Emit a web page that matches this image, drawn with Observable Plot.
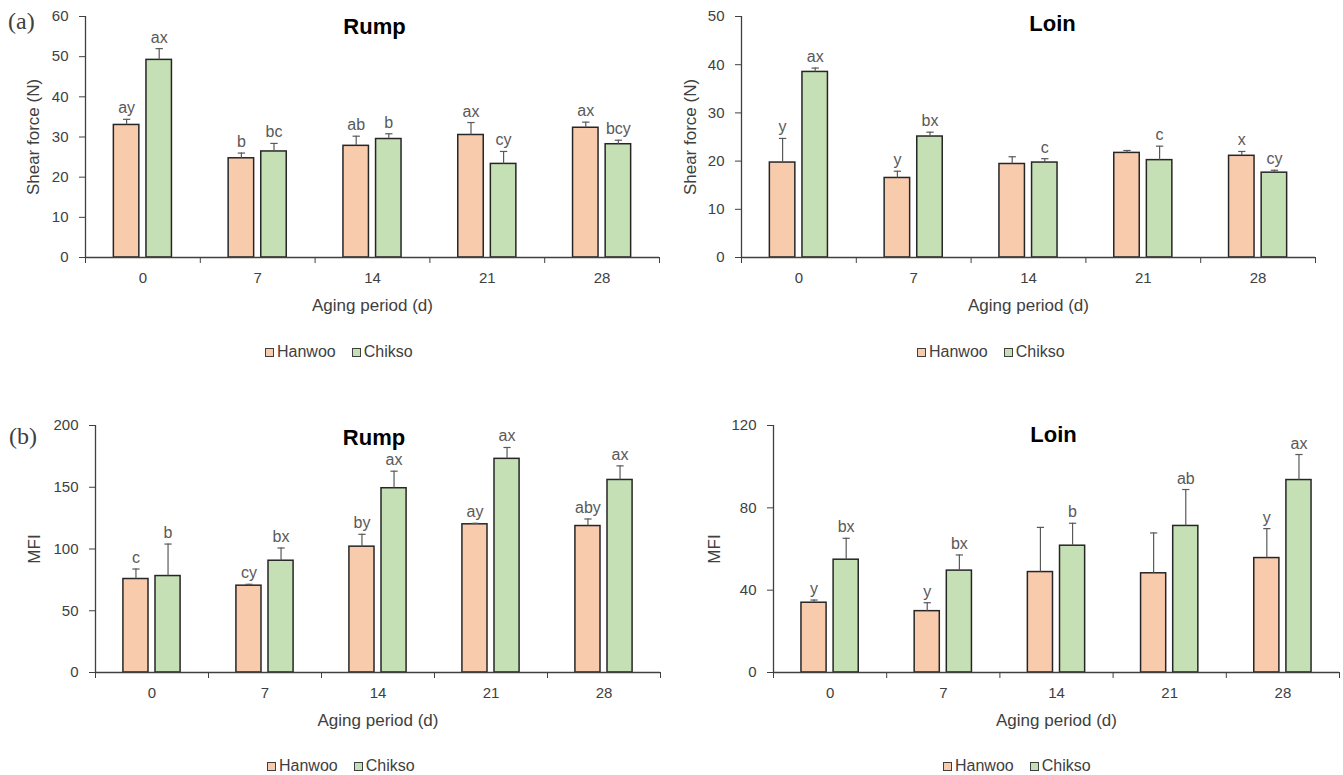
<!DOCTYPE html>
<html><head><meta charset="utf-8">
<script src="https://cdn.jsdelivr.net/npm/d3@7"></script>
<script src="https://cdn.jsdelivr.net/npm/@observablehq/plot@0.6"></script>
<style>
body{margin:0;background:#fff;width:1343px;height:775px;position:relative;overflow:hidden;font-family:"Liberation Sans",Arial,sans-serif;}
.panel{position:absolute;}
.tag{position:absolute;font-family:"Liberation Serif","Times New Roman",serif;font-size:24px;color:#404040;line-height:24px;}
.legend{position:absolute;display:flex;align-items:center;font-size:16px;color:#404040;line-height:16px;}
.sw{width:7px;height:7px;border:1px solid #404040;margin-right:3px;display:inline-block;}
.gap{width:16px;}
</style></head><body>
<div id="a1" class="panel" style="left:0;top:0"></div>
<div id="a2" class="panel" style="left:670px;top:0"></div>
<div id="b1" class="panel" style="left:0;top:400px"></div>
<div id="b2" class="panel" style="left:670px;top:400px"></div>
<div class="tag" style="left:8px;top:9px">(a)</div>
<div class="tag" style="left:9px;top:424px">(b)</div>
<div class="legend" style="left:265px;top:344px"><span class="sw" style="background:#F8CBAD"></span>Hanwoo<span class="gap"></span><span class="sw" style="background:#C5E0B4"></span>Chikso</div>
<div class="legend" style="left:917px;top:344px"><span class="sw" style="background:#F8CBAD"></span>Hanwoo<span class="gap"></span><span class="sw" style="background:#C5E0B4"></span>Chikso</div>
<div class="legend" style="left:267px;top:758px"><span class="sw" style="background:#F8CBAD"></span>Hanwoo<span class="gap"></span><span class="sw" style="background:#C5E0B4"></span>Chikso</div>
<div class="legend" style="left:943px;top:758px"><span class="sw" style="background:#F8CBAD"></span>Hanwoo<span class="gap"></span><span class="sw" style="background:#C5E0B4"></span>Chikso</div>
<script>
const days = ["0", "7", "14", "21", "28"];
const breeds = ["Hanwoo", "Chikso"];
const breedColors = ["#F8CBAD", "#C5E0B4"];

// (a) Shear force (N) — Rump
const shearRumpHanwoo = [33.0, 24.7, 27.8, 30.5, 32.3];
const shearRumpHanwooSE = [1.4, 1.3, 2.4, 3.1, 1.4];
const shearRumpHanwooLetters = ["ay", "b", "ab", "ax", "ax"];
const shearRumpChikso = [49.2, 26.4, 29.5, 23.3, 28.2];
const shearRumpChiksoSE = [2.8, 2.0, 1.3, 3.1, 1.0];
const shearRumpChiksoLetters = ["ax", "bc", "b", "cy", "bcy"];

// (a) Shear force (N) — Loin
const shearLoinHanwoo = [19.7, 16.5, 19.4, 21.7, 21.1];
const shearLoinHanwooSE = [5.0, 1.4, 1.5, 0.5, 0.9];
const shearLoinHanwooLetters = ["y", "y", "", "", "x"];
const shearLoinChikso = [38.5, 25.1, 19.7, 20.2, 17.6];
const shearLoinChiksoSE = [0.8, 0.9, 0.8, 2.9, 0.5];
const shearLoinChiksoLetters = ["ax", "bx", "c", "c", "cy"];

// (b) MFI — Rump
const mfiRumpHanwoo = [75.7, 70.3, 101.9, 120.0, 118.6];
const mfiRumpHanwooSE = [8.1, 1.1, 10.0, 0.8, 5.7];
const mfiRumpHanwooLetters = ["c", "cy", "by", "ay", "aby"];
const mfiRumpChikso = [78.1, 90.5, 149.2, 173.0, 155.9];
const mfiRumpChiksoSE = [25.9, 10.3, 13.8, 9.2, 11.4];
const mfiRumpChiksoLetters = ["b", "bx", "ax", "ax", "ax"];

// (b) MFI — Loin
const mfiLoinHanwoo = [33.9, 29.8, 48.8, 48.2, 55.6];
const mfiLoinHanwooSE = [1.3, 4.1, 21.7, 19.6, 14.3];
const mfiLoinHanwooLetters = ["y", "y", "", "", "y"];
const mfiLoinChikso = [54.8, 49.5, 61.6, 71.2, 93.5];
const mfiLoinChiksoSE = [10.4, 7.6, 10.9, 17.7, 12.4];
const mfiLoinChiksoLetters = ["bx", "bx", "b", "ab", "ax"];

const xLabel = "Aging period (d)";

function panel(o) {
  const rows = [];
  days.forEach((d, i) => {
    rows.push({day: d, i, breed: "Hanwoo", mean: o.h[i], se: o.hse[i], letters: o.hl[i]});
    rows.push({day: d, i, breed: "Chikso", mean: o.c[i], se: o.cse[i], letters: o.cl[i]});
  });
  const BW = 0.222, HG = 0.031, CAP = 0.032;
  const left = r => r.breed === "Hanwoo" ? r.i + 0.5 - HG - BW : r.i + 0.5 + HG;
  const mid = r => left(r) + BW / 2;
  const top = r => r.mean + r.se;
  return Plot.plot({
    width: o.width, height: o.height,
    marginLeft: o.ml, marginRight: o.mr, marginTop: o.mt, marginBottom: o.mb,
    x: {domain: [0, days.length]},
    y: {domain: [0, o.yMax]},
    color: {domain: breeds, range: breedColors},
    style: {fontFamily: '"Liberation Sans", Arial, sans-serif', fontSize: "15px", color: "#404040", background: "white", overflow: "visible"},
    marks: [
      Plot.rect(rows, {x1: left, x2: r => left(r) + BW, y1: 0, y2: "mean", fill: "breed", stroke: "#262626", strokeWidth: 1.5}),
      Plot.ruleX(rows, {x: mid, y1: "mean", y2: top, stroke: "#595959", strokeWidth: 1.2}),
      Plot.link(rows, {x1: r => mid(r) - CAP, x2: r => mid(r) + CAP, y1: top, y2: top, stroke: "#595959", strokeWidth: 1.2}),
      Plot.text(rows.filter(r => r.letters), {x: mid, y: top, text: "letters", lineAnchor: "bottom", dy: -6, fontSize: 16, fill: "#595959"}),
      Plot.ruleY([0], {stroke: "#404040", strokeWidth: 1.3}),
      Plot.ruleX([0], {stroke: "#404040", strokeWidth: 1.3}),
      Plot.axisY({ticks: d3.range(0, o.yMax + 1, o.yStep), tickSize: 6, tickPadding: 11, fontSize: 15, color: "#404040", label: null}),
      Plot.axisY({ticks: [], tickSize: 0, fontSize: 17, color: "#404040",
        label: o.yLabel, labelAnchor: "center", labelArrow: "none", labelOffset: o.ylo}),
      Plot.axisX({ticks: d3.range(0, days.length + 1), tickFormat: () => "", tickSize: 6, color: "#404040", label: null}),
      Plot.axisX({ticks: days.map((d, i) => i + 0.5), tickFormat: v => days[Math.floor(v)], tickSize: 0, tickPadding: 15, fontSize: 15, color: "#404040", label: null}),
      Plot.axisX({ticks: [], tickSize: 0, fontSize: 17, color: "#404040",
        label: xLabel, labelAnchor: "center", labelArrow: "none", labelOffset: o.xlo}),
      Plot.text([o.title], {frameAnchor: "top", dx: o.tdx, dy: o.tdy, lineAnchor: "middle", fontSize: 22, fontWeight: "bold", fill: "#000"})
    ]
  });
}

document.getElementById("a1").append(panel({
  h: shearRumpHanwoo, hse: shearRumpHanwooSE, hl: shearRumpHanwooLetters,
  c: shearRumpChikso, cse: shearRumpChiksoSE, cl: shearRumpChiksoLetters,
  yMax: 60, yStep: 10, yLabel: "Shear force (N)", title: "Rump",
  width: 670, height: 320, ml: 85, mr: 11, mt: 16, mb: 63, ylo: 59, xlo: 53, tdx: 2, tdy: 10
}));
document.getElementById("a2").append(panel({
  h: shearLoinHanwoo, hse: shearLoinHanwooSE, hl: shearLoinHanwooLetters,
  c: shearLoinChikso, cse: shearLoinChiksoSE, cl: shearLoinChiksoLetters,
  yMax: 50, yStep: 10, yLabel: "Shear force (N)", title: "Loin",
  width: 673, height: 320, ml: 71, mr: 28, mt: 16, mb: 63, ylo: 58, xlo: 53, tdx: 24, tdy: 7
}));
document.getElementById("b1").append(panel({
  h: mfiRumpHanwoo, hse: mfiRumpHanwooSE, hl: mfiRumpHanwooLetters,
  c: mfiRumpChikso, cse: mfiRumpChiksoSE, cl: mfiRumpChiksoLetters,
  yMax: 200, yStep: 50, yLabel: "MFI", title: "Rump",
  width: 670, height: 340, ml: 95, mr: 10, mt: 25, mb: 68, ylo: 68, xlo: 53, tdx: -4, tdy: 12
}));
document.getElementById("b2").append(panel({
  h: mfiLoinHanwoo, hse: mfiLoinHanwooSE, hl: mfiLoinHanwooLetters,
  c: mfiLoinChikso, cse: mfiLoinChiksoSE, cl: mfiLoinChiksoLetters,
  yMax: 120, yStep: 40, yLabel: "MFI", title: "Loin",
  width: 673, height: 340, ml: 103, mr: 4, mt: 25, mb: 68, ylo: 66, xlo: 53, tdx: -3, tdy: 9
}));
</script>
</body></html>
